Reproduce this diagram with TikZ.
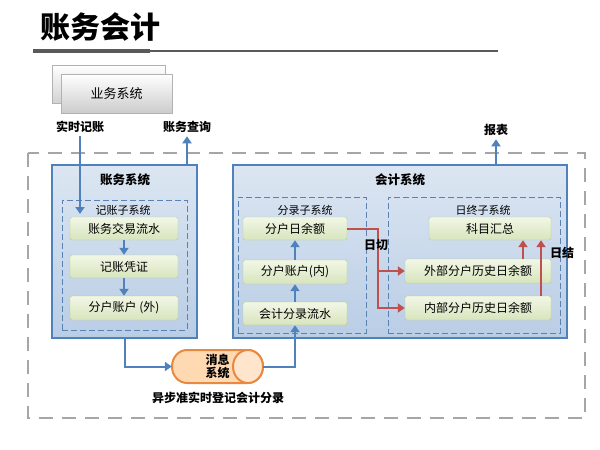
\documentclass[tikz,border=0pt]{standalone}
\usepackage{fontspec}
\setmainfont{Noto Sans CJK SC}
\usetikzlibrary{arrows.meta}

\definecolor{azul}{HTML}{4F81BD}
\definecolor{azulclaro}{HTML}{DCE6F2}
\definecolor{azulmedio}{HTML}{B9CDE5}
\definecolor{verdeclaro}{HTML}{F2F7E6}
\definecolor{verde}{HTML}{D7E4BD}
\definecolor{bordeverde}{HTML}{B5C98E}
\definecolor{rojo}{HTML}{C0504D}
\definecolor{naranja}{HTML}{E9893F}
\definecolor{gris}{HTML}{A6A6A6}

\tikzset{
  sistema/.style={draw=azul, line width=1.5pt, top color=azulclaro, bottom color=azulmedio},
  subsis/.style={draw=azul!80!gray, dashed, dash pattern=on 6pt off 3pt, line width=1pt},
  caja/.style={draw=bordeverde, rounded corners=2pt, top color=verdeclaro, bottom color=verde,
    font=\fontsize{12}{12}\selectfont, inner sep=0pt},
  flecha/.style={draw=azul, line width=2pt, -{Triangle[length=7pt,width=9pt]}},
  roja/.style={draw=rojo, line width=2pt, -{Triangle[length=7pt,width=9pt]}},
  etiqueta/.style={font=\fontsize{12}{12}\selectfont\bfseries},
  titulo/.style={font=\fontsize{12.5}{12.5}\selectfont\bfseries},
  subtitulo/.style={font=\fontsize{11}{11}\selectfont},
}

\begin{document}
\begin{tikzpicture}[x=1pt,y=-1pt]
   \useasboundingbox (0,0) rectangle (600,450);

   %titulo
   \node[font=\fontsize{30}{30}\selectfont\bfseries] (tit) at (100,27) {账务会计};
   \draw[line width=4pt, color=gray!70!black] (33,51) -- (150,51);
   \draw[line width=1.2pt, color=gray!70!black] (150,51) -- (498,51);

   %sistema de negocio
   \draw[draw=gray!60, top color=white, bottom color=gray!35] (52,65) rectangle (165,103);
   \node[draw=gray!60, top color=white, bottom color=gray!40, minimum width=111pt, minimum height=39pt,
     font=\fontsize{13}{13}\selectfont] (yw) at (116.5,93.5) {业务系统};

   %marco exterior
   \draw[gris, line width=2.5pt, dash pattern=on 14pt off 9pt] (28,153) rectangle (585,418);

   %cajas de sistemas
   \node[sistema, minimum width=145pt, minimum height=173pt] (zw) at (124.5,251.5) {};
   \node[sistema, minimum width=334pt, minimum height=173pt] (kj) at (400,251.5) {};
   \node[titulo] at (125,180) {账务系统};
   \node[titulo] at (400,180) {会计系统};

   %subsistemas
   \node[subsis, minimum width=125pt, minimum height=130pt] (jz) at (124.5,265) {};
   \node[subsis, minimum width=128pt, minimum height=136pt] (fl) at (302,265) {};
   \node[subsis, minimum width=172pt, minimum height=136pt] (rz) at (474,265) {};
   \node[subtitulo] at (123,210) {记账子系统};
   \node[subtitulo] at (305,210) {分录子系统};
   \node[subtitulo] at (483,210) {日终子系统};

   %cajas verdes
   \node[caja, minimum width=108pt, minimum height=23pt] (a1) at (124,228.5) {账务交易流水};
   \node[caja, minimum width=108pt, minimum height=23pt] (a2) at (124,266.5) {记账凭证};
   \node[caja, minimum width=108pt, minimum height=24pt] (a3) at (124,308) {分户账户 (外)};
   \node[caja, minimum width=104pt, minimum height=23pt] (c1) at (295,228.5) {分户日余额};
   \node[caja, minimum width=104pt, minimum height=24pt] (c2) at (295,272) {分户账户(内)};
   \node[caja, minimum width=104pt, minimum height=23pt] (c3) at (295,313.5) {会计分录流水};
   \node[caja, minimum width=122pt, minimum height=23pt] (sum) at (490,228.5) {科目汇总};
   \node[caja, minimum width=146pt, minimum height=24pt] (ext) at (478,271) {外部分户历史日余额};
   \node[caja, minimum width=146pt, minimum height=24pt] (int) at (478,308) {内部分户历史日余额};

   %mensajes (cilindro)
   \draw[draw=naranja, line width=2pt, fill=orange!30]
     (187,350) -- (248,350) arc[start angle=-90, end angle=90, x radius=15, y radius=16.5]
     -- (187,383) arc[start angle=90, end angle=270, x radius=15, y radius=16.5] -- cycle;
   \draw[draw=naranja, line width=2pt, fill=orange!20] (248,366.5) ellipse[x radius=15, y radius=16.5];
   \node[minimum width=91pt, minimum height=33pt, align=center,
     font=\fontsize{12}{13}\selectfont\bfseries] (msg) at (217.5,366.5) {消息\\系统};
   \node[etiqueta] (yb) at (218,398) {异步准实时登记会计分录};

   %etiquetas
   \node[etiqueta] (ss) at (80,127) {实时记账};
   \node[etiqueta] (cx) at (187,127) {账务查询};
   \node[etiqueta] (bb) at (496,130) {报表};

   %flechas azules
   \coordinate (in) at (80,214);
   \draw[flecha] (ss.south) -- (in);
   \draw[flecha] (zw.north -| cx.south) -- (cx.south);
   \draw[flecha] (kj.north -| bb.south) -- (bb.south);
   \draw[flecha] (a1) -- (a2);
   \draw[flecha] (a2) -- (a3);
   \draw[flecha] (c3) -- (c2);
   \draw[flecha] (c2) -- (c1);
   \draw[flecha] (zw.south) |- (msg.west);
   \draw[flecha] (msg.east) -| (c3.south);

   %flechas rojas
   \coordinate (rama) at (378,271);
   \draw[roja] (c1.east) -| (rama) |- (int.west);
   \draw[roja] (rama) -- (ext.west);
   \draw[roja] ([xshift=45pt]ext.north) -- ([xshift=45pt]ext.north |- sum.south);
   \draw[roja] ([xshift=63pt]int.north) -- ([xshift=63pt]int.north |- sum.south);
   \node[etiqueta] (rq) at (376,245) {日切};
   \node[etiqueta] (rj) at (562,253) {日结};
\end{tikzpicture}
\end{document}
